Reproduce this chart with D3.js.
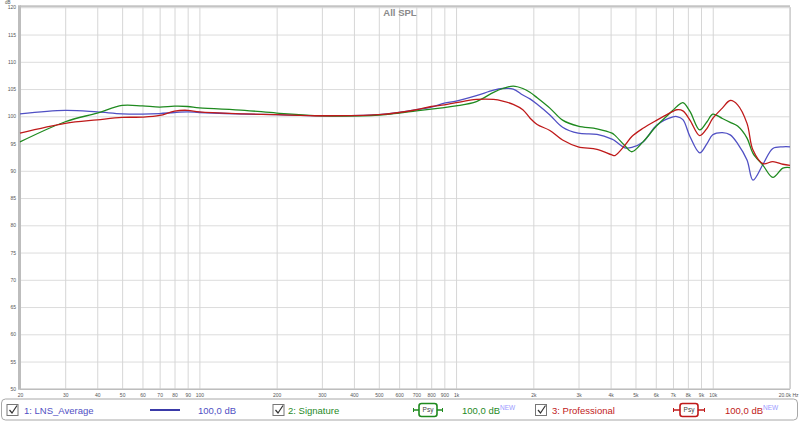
<!DOCTYPE html>
<html><head><meta charset="utf-8">
<script src="https://cdn.jsdelivr.net/npm/d3@7/dist/d3.min.js"></script>
<style>
body{margin:0;background:#fff;}
svg{display:block;font-family:"Liberation Sans",Arial,sans-serif;}
</style></head><body>
<svg id="c" width="800" height="422"></svg>
<script>
const freqs = [20,30,40,50,60,70,80,90,100,150,200,300,500,600,700,800,900,1000,1200,1400,1520,1670,1820,1940,2070,2320,2600,2990,3540,4050,4160,4550,4840,5350,6060,7000,7250,7650,8150,8900,9500,10000,10900,11700,12500,13600,14350,15700,17150,18760,20000];
const lnsAverage = [100.45,101.1,100.8,100.45,100.4,100.5,100.7,100.8,100.7,100.4,100.3,100.1,100.3,100.7,101.2,101.7,102.4,102.8,103.8,104.8,105.1,105.0,103.9,103.2,102.2,100.25,98.0,96.9,96.7,95.8,95.5,94.2,94.3,95.3,98.4,99.9,99.95,99.4,96.3,93.3,95.0,96.6,97.0,96.6,95.0,92.0,88.3,91.2,94.1,94.4,94.4];
const signature = [95.3,99.0,100.6,102.0,101.9,101.7,101.85,101.8,101.55,101.1,100.6,100.1,100.2,100.6,101.0,101.3,101.6,101.9,102.7,104.4,105.1,105.55,105.1,104.4,103.4,101.5,99.3,98.2,97.7,96.9,96.5,94.6,93.5,95.3,98.3,101.1,101.8,102.5,100.9,97.5,99.0,100.4,99.6,98.9,98.2,96.0,93.2,91.0,88.8,90.5,90.6];
const professional = [96.9,98.7,99.35,99.8,99.85,100.15,100.95,101.1,100.8,100.45,100.3,100.1,100.3,100.7,101.2,101.8,102.1,102.5,103.1,103.1,102.8,102.2,101.2,99.7,98.5,97.4,95.65,94.4,93.95,92.9,92.8,94.7,96.3,97.8,99.3,100.9,101.2,101.0,99.3,96.45,97.8,99.6,101.5,102.9,102.1,98.7,93.8,91.3,91.7,91.2,91.0];
const xGrid = [20,30,40,50,60,70,80,90,100,200,300,400,500,600,700,800,900,1000,2000,3000,4000,5000,6000,7000,8000,9000,10000,20000];
const xLabels = ["20","30","40","50","60","70","80","90","100","200","300","400","500","600","700","800","900","1k","2k","3k","4k","5k","6k","7k","8k","9k","10k","20.0k Hz"];
const yTicks = [50,55,60,65,70,75,80,85,90,95,100,105,110,115,120];
const seriesNames = ["1: LNS_Average","2: Signature","3: Professional"];
const seriesColors = ["#5050c4","#1f8a1f","#bf1a1a"];
const legendValue = "100,0 dB";

const svg = d3.select("#c");
const x = d3.scaleLog().domain([20,20000]).range([20,790]);
const y = d3.scaleLinear().domain([50,120]).range([388.8,7.3]);

// gridlines
const gy = svg.append("g").attr("transform","translate(20,0)")
  .call(d3.axisLeft(y).tickValues(yTicks).tickSize(-770).tickFormat(""));
gy.select(".domain").remove();
gy.selectAll("line").attr("stroke","#dcdcdc");
const gx = svg.append("g").attr("transform","translate(0,388.8)")
  .call(d3.axisBottom(x).tickValues(xGrid).tickSize(-381.5).tickFormat(""));
gx.select(".domain").remove();
gx.selectAll("line").attr("stroke","#d6d6d6");

// frame
svg.append("line").attr("x1",20).attr("x2",790).attr("y1",y(120)-1).attr("y2",y(120)-1).attr("stroke","#c4c4c4").attr("stroke-width",2);
svg.append("line").attr("x1",790).attr("x2",790).attr("y1",y(120)).attr("y2",y(50)).attr("stroke","#cfcfcf").attr("stroke-width",1.5);
svg.append("line").attr("x1",20).attr("x2",790).attr("y1",y(50)+0.5).attr("y2",y(50)+0.5).attr("stroke","#bdbdbd").attr("stroke-width",1.5);
svg.append("line").attr("x1",19.5).attr("x2",19.5).attr("y1",y(120)-2).attr("y2",y(50)+1).attr("stroke","#bdbdbd").attr("stroke-width",3);

// axis labels
const ay = svg.append("g").attr("transform","translate(16,0)")
  .call(d3.axisLeft(y).tickValues(yTicks).tickSize(0).tickPadding(0).tickFormat(d3.format("d")));
ay.select(".domain").remove();
ay.selectAll("text").attr("font-size","5px").attr("fill","#555").attr("font-family","Liberation Sans, Arial, sans-serif");
svg.append("text").attr("x",5).attr("y",4).attr("font-size","4.5px").attr("fill","#555").text("dB");

const ax = svg.append("g").attr("transform","translate(0,390)")
  .call(d3.axisBottom(x).tickValues(xGrid).tickSize(0).tickPadding(3).tickFormat((d,i)=>xLabels[i]));
ax.select(".domain").remove();
ax.selectAll("text").attr("font-size","5px").attr("fill","#555").attr("font-family","Liberation Sans, Arial, sans-serif");
ax.selectAll("text").filter((d,i)=>i===xLabels.length-1).attr("text-anchor","end").attr("dx","8");

// title
svg.append("text").attr("x",400).attr("y",15.5).attr("text-anchor","middle")
  .attr("font-size","9.5px").attr("font-weight","bold").attr("fill","#8a8a8a").text("All SPL");

// curves
const line = d3.line().x(d=>x(d[0])).y(d=>y(d[1])).curve(d3.curveCatmullRom.alpha(0.5));
[lnsAverage, signature, professional].forEach((vals,i)=>{
  svg.append("path").datum(freqs.map((f,j)=>[f,vals[j]]))
    .attr("d",line).attr("fill","none").attr("stroke",seriesColors[i]).attr("stroke-width",1.3);
});

// legend
svg.append("rect").attr("x",1.5).attr("y",399).attr("width",796).attr("height",21).attr("rx",4)
  .attr("fill","#fff").attr("stroke","#a8a8a8").attr("stroke-width",1);
function checkbox(cx){
  svg.append("rect").attr("x",cx).attr("y",404.5).attr("width",11).attr("height",11)
    .attr("fill","#fff").attr("stroke","#777").attr("stroke-width",1);
  svg.append("path").attr("d",`M${cx+2.5},${410} L${cx+5},${413} L${cx+10},${405.5}`)
    .attr("fill","none").attr("stroke","#333").attr("stroke-width",1.2);
}
function psy(x0,x1,col){
  svg.append("line").attr("x1",x0).attr("x2",x1).attr("y1",410).attr("y2",410).attr("stroke",col).attr("stroke-width",1.5);
  svg.append("line").attr("x1",x0+0.5).attr("x2",x0+0.5).attr("y1",408).attr("y2",412).attr("stroke",col).attr("stroke-width",1);
  svg.append("line").attr("x1",x1-0.5).attr("x2",x1-0.5).attr("y1",408).attr("y2",412).attr("stroke",col).attr("stroke-width",1);
  const w=18, cx=(x0+x1)/2;
  svg.append("rect").attr("x",cx-w/2).attr("y",403.5).attr("width",w).attr("height",13).attr("rx",2.5)
    .attr("fill","#fff").attr("stroke",col).attr("stroke-width",1.6);
  svg.append("text").attr("x",cx).attr("y",412.3).attr("text-anchor","middle").attr("font-size","6.5px").attr("fill","#444").text("Psy");
}
function valueText(xp,col,isNew){
  const t = svg.append("text").attr("x",xp).attr("y",413.5).attr("font-size","9.5px").attr("fill",col).text(legendValue);
  if(isNew) t.append("tspan").attr("dy",-4).attr("font-size","6.5px").attr("fill","#9a9aff").text("NEW");
}
checkbox(7);
svg.append("text").attr("x",24).attr("y",413.5).attr("font-size","9.5px").attr("fill",seriesColors[0]).text(seriesNames[0]);
svg.append("line").attr("x1",150).attr("x2",180).attr("y1",410).attr("y2",410).attr("stroke","#3a3aa8").attr("stroke-width",2);
valueText(198,seriesColors[0],false);
checkbox(273);
svg.append("text").attr("x",288).attr("y",413.5).attr("font-size","9.5px").attr("fill",seriesColors[1]).text(seriesNames[1]);
psy(413,443,seriesColors[1]);
valueText(462,seriesColors[1],true);
checkbox(535.5);
svg.append("text").attr("x",552).attr("y",413.5).attr("font-size","9.5px").attr("fill",seriesColors[2]).text(seriesNames[2]);
psy(673,705,seriesColors[2]);
valueText(725,seriesColors[2],true);
</script></body></html>
